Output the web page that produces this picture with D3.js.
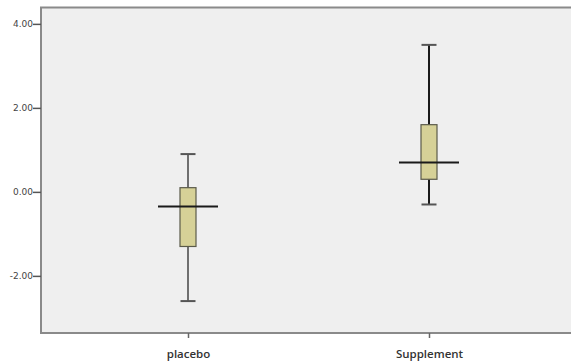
<!DOCTYPE html>
<html><head><meta charset="utf-8">
<script src="https://cdn.jsdelivr.net/npm/d3@7"></script>
<style>html,body{margin:0;padding:0;background:#fff;}svg{display:block;}</style>
</head><body>
<svg id="c" width="571" height="362"></svg>
<script>
const categories = ["placebo", "Supplement"];
const whiskerLow  = [-2.6, -0.3];
const boxLow      = [-1.3, 0.3];
const medians     = [-0.35, 0.7];
const boxHigh     = [0.1, 1.6];
const whiskerHigh = [0.9, 3.5];
const yTicks = [4, 2, 0, -2];

const svg = d3.select("#c");
const L = 41, T = 7.5, B = 333, R = 600;
const y = d3.scaleLinear().domain([-3.36, 4.39]).range([B, T]);
const x = d3.scaleBand().domain(categories).range([67.5, 549.5]).padding(0);
const cx = c => x(c) + x.bandwidth() / 2;

svg.append("rect").attr("x", L).attr("y", T).attr("width", R - L).attr("height", B - T)
  .attr("fill", "#efefef").attr("stroke", "#8a8a8a").attr("stroke-width", 2);

// y axis
const fmt = d3.format(".2f");
const ya = svg.append("g").attr("transform", `translate(${L},0)`)
  .call(d3.axisLeft(y).tickValues(yTicks).tickFormat(d => fmt(d).replace("\u2212", "-")).tickSize(8).tickSizeOuter(0));
ya.select(".domain").remove();
ya.selectAll("line").attr("stroke", "#555").attr("stroke-width", 1.5);
ya.selectAll("text").attr("font-family", "DejaVu Sans, sans-serif").attr("font-size", 9).attr("fill", "#444").attr("x", -8);

// x axis
const xa = svg.append("g").attr("transform", `translate(0,${B})`)
  .call(d3.axisBottom(d3.scalePoint().domain(categories).range([cx(categories[0]), cx(categories[1])])).tickSize(5).tickSizeOuter(0));
xa.select(".domain").remove();
xa.selectAll("line").attr("stroke", "#666").attr("stroke-width", 1.5);
xa.selectAll("text").attr("font-family", "Open Sans, sans-serif").attr("font-size", 11.5).attr("font-weight", 600)
  .attr("fill", "#333").attr("dy", 0).attr("y", 25);

const whiskerColors = ["#6f6f6f", "#1a1a1a"];
categories.forEach((c, i) => {
  const g = svg.append("g");
  const xc = cx(c);
  const ws = whiskerColors[i];
  g.append("line").attr("x1", xc).attr("x2", xc).attr("y1", y(whiskerHigh[i])).attr("y2", y(boxHigh[i]))
    .attr("stroke", ws).attr("stroke-width", 2);
  g.append("line").attr("x1", xc).attr("x2", xc).attr("y1", y(boxLow[i])).attr("y2", y(whiskerLow[i]))
    .attr("stroke", ws).attr("stroke-width", 2);
  [whiskerHigh[i], whiskerLow[i]].forEach(v => {
    g.append("line").attr("x1", xc - 7.5).attr("x2", xc + 7.5).attr("y1", y(v)).attr("y2", y(v))
      .attr("stroke", "#555").attr("stroke-width", 2);
  });
  g.append("rect").attr("x", xc - 8).attr("width", 16).attr("y", y(boxHigh[i])).attr("height", y(boxLow[i]) - y(boxHigh[i]))
    .attr("fill", "#d6d197").attr("stroke", "#5a5a4a").attr("stroke-width", 1.2);
  g.append("line").attr("x1", xc - 30).attr("x2", xc + 30).attr("y1", y(medians[i])).attr("y2", y(medians[i]))
    .attr("stroke", "#1a1a1a").attr("stroke-width", 2);
});
</script>
</body></html>
